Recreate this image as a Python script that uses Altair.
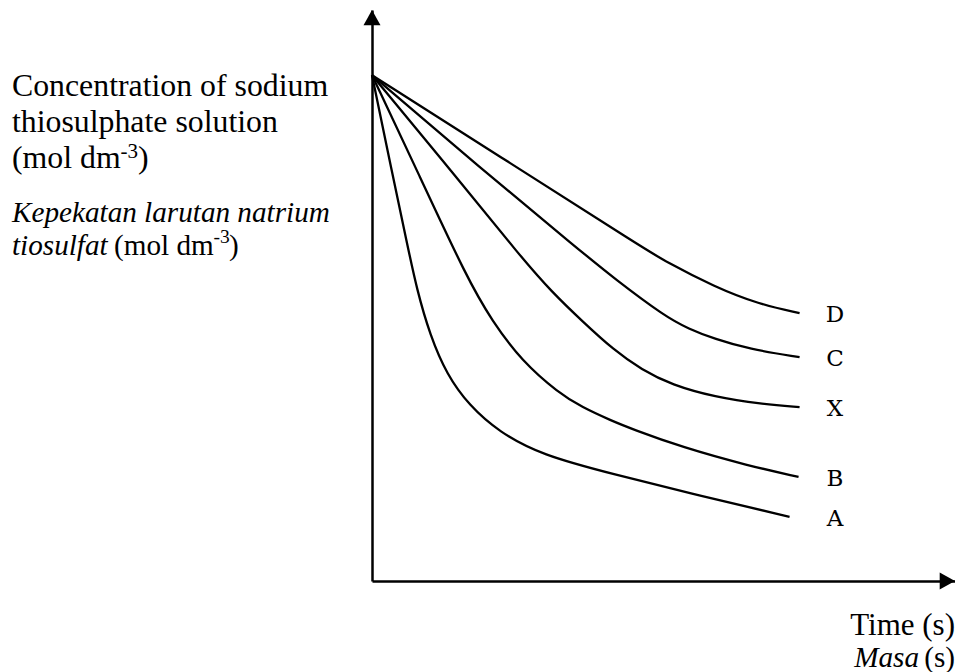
import altair as alt
import pandas as pd

# ---- data (time in s, concentration in arbitrary units) ----
series_names = ["D", "C", "X", "B", "A"]

time_D = [0, 32.66, 62.98, 68.35, 80.01, 90.27, 99.84]
conc_D = [1.001, 0.825, 0.661, 0.633, 0.582, 0.548, 0.530]

time_C = [0, 24.49, 48.99, 56.68, 68.35, 73.94, 80.01, 87.94, 99.84]
conc_C = [1.001, 0.823, 0.651, 0.598, 0.524, 0.499, 0.479, 0.459, 0.443]

time_X = [0, 19.83, 34.99, 41.99, 48.99, 56.45, 62.98, 69.98, 80.01, 90.97, 99.84]
conc_X = [1.001, 0.798, 0.639, 0.572, 0.515, 0.457, 0.418, 0.388, 0.364, 0.350, 0.344]

time_B = [0, 11.20, 22.16, 27.99, 34.99, 43.62, 48.99, 55.98, 60.65, 72.31, 87.94, 99.60]
conc_B = [1.001, 0.800, 0.600, 0.515, 0.435, 0.372, 0.344, 0.317, 0.301, 0.265, 0.228, 0.206]

time_A = [0, 4.67, 8.16, 10.50, 13.53, 17.49, 22.63, 29.62, 39.65, 55.98, 76.98, 97.50]
conc_A = [1.001, 0.809, 0.669, 0.576, 0.487, 0.408, 0.348, 0.295, 0.249, 0.212, 0.168, 0.127]

T_MAX = 136.13
C_MAX = 1.13

series_data = {
    "D": (time_D, conc_D),
    "C": (time_C, conc_C),
    "X": (time_X, conc_X),
    "B": (time_B, conc_B),
    "A": (time_A, conc_A),
}

rows = []
for name in series_names:
    ts, cs = series_data[name]
    for i, (t, c) in enumerate(zip(ts, cs)):
        rows.append({"series": name, "i": i, "t": t, "c": c})
df = pd.DataFrame(rows)

one = alt.Data(values=[{"k": 0}])

x_scale = alt.Scale(domain=[0, T_MAX], nice=False, zero=False)
y_scale = alt.Scale(domain=[0, C_MAX], nice=False, zero=False)
axis_style = dict(title=None, labels=False, ticks=False, grid=False,
                  domain=True, domainColor="black", domainWidth=2.5)

curves = alt.Chart(df).mark_line(
    interpolate="basis", color="black", strokeWidth=2.3
).encode(
    x=alt.X("t:Q", scale=x_scale, axis=alt.Axis(**axis_style)),
    y=alt.Y("c:Q", scale=y_scale, axis=alt.Axis(**axis_style)),
    detail="series:N",
    order="i:Q",
)

labels = alt.Chart(df).transform_joinaggregate(
    tmax="max(t)", groupby=["series"]
).transform_filter(
    "datum.t == datum.tmax"
).mark_text(
    align="center", baseline="middle", dy=2,
    font="DejaVu Serif", fontSize=23, color="black"
).encode(
    x=alt.value(463),
    y=alt.Y("c:Q", scale=y_scale),
    text="series:N",
)

up_arrow = alt.Chart(one).mark_point(
    shape="M0,0L1,1.8L-1,1.8Z", size=289, filled=True,
    color="black", opacity=1, strokeWidth=0
).encode(x=alt.datum(0), y=alt.datum(C_MAX))

right_arrow = alt.Chart(one).mark_point(
    shape="M0,0L-1.8,-1L-1.8,1Z", size=289, filled=True,
    color="black", opacity=1, strokeWidth=0
).encode(x=alt.datum(T_MAX), y=alt.datum(0))


def txt(s, x, y, size, style="normal", align="left"):
    return alt.Chart(one).mark_text(
        text=s, align=align, baseline="alphabetic",
        font="Liberation Serif", fontSize=size, fontStyle=style, color="black"
    ).encode(x=alt.value(x), y=alt.value(y))


EN = 31.8
MS = 29.2
texts = [
    txt("Concentration of sodium", -360, 86, EN),
    txt("thiosulphate solution", -360, 122, EN),
    txt("(mol dm", -360, 157.5, EN),
    txt("-3", -251.5, 148, 21),
    txt(")", -234, 157.5, EN),
    txt("Kepekatan larutan natrium", -360, 212, MS, "italic"),
    txt("tiosulfat", -360, 245, MS, "italic"),
    txt("(mol dm", -258, 245, MS),
    txt("-3", -158.5, 233, 19.5),
    txt(")", -143, 245, MS),
    txt("Time (s)", 583, 625, 31, align="right"),
    txt("Masa", 547, 657, MS, "italic", align="right"),
    txt("(s)", 583, 657, MS, align="right"),
]

chart = alt.layer(curves, labels, up_arrow, right_arrow, *texts).properties(
    width=583,
    height=571,
    autosize=alt.AutoSizeParams(type="none"),
    padding={"left": 364, "top": 2, "right": 0, "bottom": 91},
    background="white",
).configure_view(stroke=None)

chart.save("out.html", embed_options={"renderer": "svg", "actions": False})
